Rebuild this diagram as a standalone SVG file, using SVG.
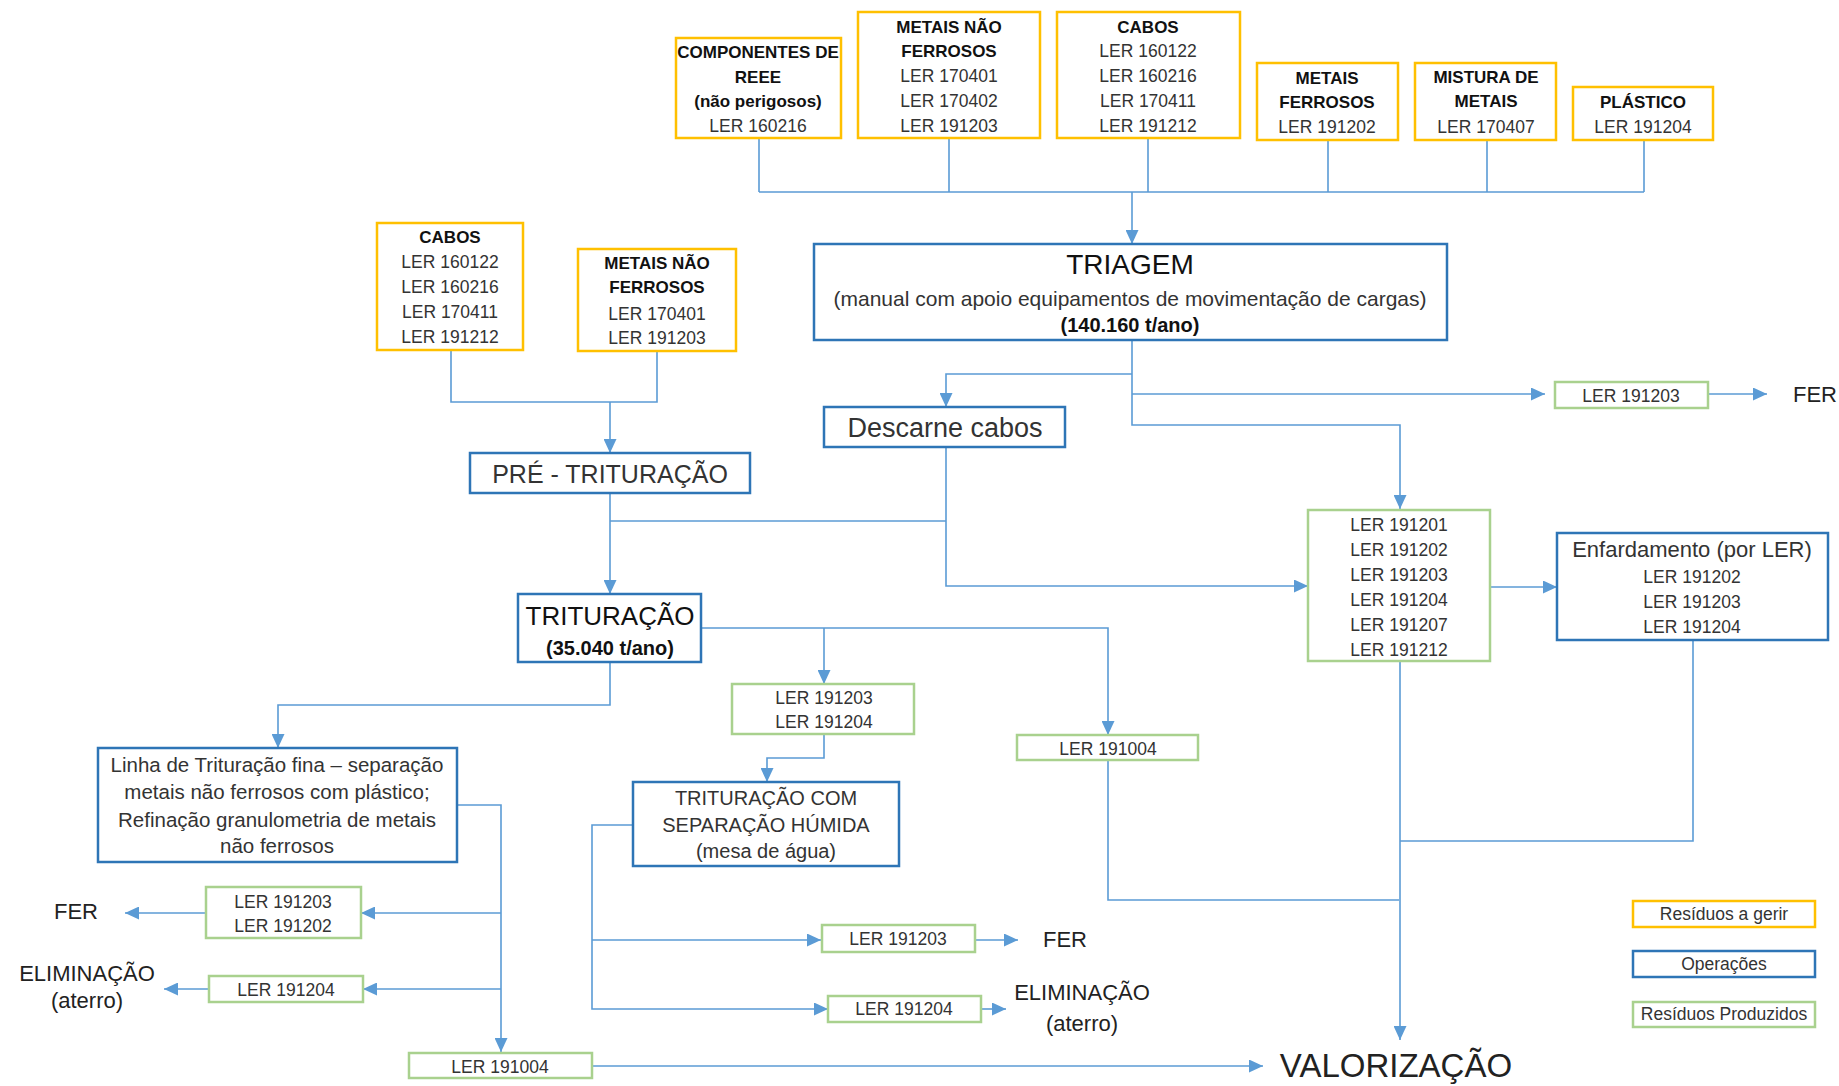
<svg xmlns="http://www.w3.org/2000/svg" width="1839" height="1086" viewBox="0 0 1839 1086">
<style>
.y{fill:#fff;stroke:#FFC000;stroke-width:2.5}
.b{fill:#fff;stroke:#2E75B6;stroke-width:2.5}
.g{fill:#fff;stroke:#A9D18E;stroke-width:2.5}
.c{fill:none;stroke:#5B9BD5;stroke-width:1.6}
.a{marker-end:url(#arr)}
text{font-family:"Liberation Sans",Arial,sans-serif;fill:#333;text-anchor:middle}
.h{font-weight:bold;fill:#111;font-size:17px}
.l{font-size:17.5px}
.m{font-size:21px}
.big{font-size:22px;fill:#222}
</style>
<defs>
<marker id="arr" markerUnits="userSpaceOnUse" markerWidth="14" markerHeight="13" refX="14" refY="6.5" orient="auto">
<path d="M0,0 L14,6.5 L0,13 z" fill="#5B9BD5"/>
</marker>
</defs>
<rect width="1839" height="1086" fill="#fff"/>

<g id="connectors">
<path class="c" d="M759,138V192M949,138V192M1148,138V192M1328,140V192M1487,140V192M1644,140V192M759,192H1644"/>
<path class="c a" d="M1132,192V244"/>
<path class="c a" d="M1132,340V425H1400V509"/>
<path class="c a" d="M1132,374H946V407"/>
<path class="c a" d="M1132,394H1545"/>
<path class="c a" d="M1708,394H1767"/>
<path class="c" d="M451,350V402H657V351"/>
<path class="c a" d="M610,402V453"/>
<path class="c a" d="M610,493V594"/>
<path class="c a" d="M946,447V586H1308"/>
<path class="c" d="M946,521H610"/>
<path class="c a" d="M1490,587H1557"/>
<path class="c a" d="M701,628H1108V735"/>
<path class="c a" d="M824,628V684"/>
<path class="c a" d="M824,734V758H767V782"/>
<path class="c a" d="M610,662V705H278V748"/>
<path class="c a" d="M457,805H501V1052"/>
<path class="c a" d="M501,913H361"/>
<path class="c a" d="M501,989H363"/>
<path class="c a" d="M206,913H125"/>
<path class="c a" d="M209,989H164"/>
<path class="c a" d="M592,1066H1263"/>
<path class="c a" d="M633,825H592V1009H828"/>
<path class="c a" d="M592,940H821"/>
<path class="c a" d="M975,940H1018"/>
<path class="c a" d="M981,1009H1006"/>
<path class="c" d="M1108,760V900H1399"/>
<path class="c a" d="M1400,661V1040"/>
<path class="c" d="M1693,640V841H1400"/>
</g>

<g id="componentes">
<rect class="y" x="676" y="38" width="165" height="100"/>
<text class="h" x="758" y="58">COMPONENTES DE</text>
<text class="h" x="758" y="83">REEE</text>
<text class="h" x="758" y="107">(não perigosos)</text>
<text class="l" x="758" y="132">LER 160216</text>
</g>
<g id="metais-nao-ferrosos-top">
<rect class="y" x="858" y="12" width="182" height="126"/>
<text class="h" x="949" y="33">METAIS NÃO</text>
<text class="h" x="949" y="57">FERROSOS</text>
<text class="l" x="949" y="82">LER 170401</text>
<text class="l" x="949" y="107">LER 170402</text>
<text class="l" x="949" y="132">LER 191203</text>
</g>
<g id="cabos-top">
<rect class="y" x="1057" y="12" width="183" height="126"/>
<text class="h" x="1148" y="33">CABOS</text>
<text class="l" x="1148" y="57">LER 160122</text>
<text class="l" x="1148" y="82">LER 160216</text>
<text class="l" x="1148" y="107">LER 170411</text>
<text class="l" x="1148" y="132">LER 191212</text>
</g>
<g id="metais-ferrosos">
<rect class="y" x="1257" y="63" width="141" height="77"/>
<text class="h" x="1327" y="84">METAIS</text>
<text class="h" x="1327" y="108">FERROSOS</text>
<text class="l" x="1327" y="133">LER 191202</text>
</g>
<g id="mistura">
<rect class="y" x="1415" y="63" width="141" height="77"/>
<text class="h" x="1486" y="83">MISTURA DE</text>
<text class="h" x="1486" y="107">METAIS</text>
<text class="l" x="1486" y="133">LER 170407</text>
</g>
<g id="plastico">
<rect class="y" x="1573" y="87" width="140" height="53"/>
<text class="h" x="1643" y="108">PLÁSTICO</text>
<text class="l" x="1643" y="133">LER 191204</text>
</g>

<g id="triagem">
<rect class="b" x="814" y="244" width="633" height="96"/>
<text x="1130" y="274" style="font-size:28px;fill:#111">TRIAGEM</text>
<text x="1130" y="306" style="font-size:21px">(manual com apoio equipamentos de movimentação de cargas)</text>
<text x="1130" y="332" style="font-size:20px;font-weight:bold;fill:#111">(140.160 t/ano)</text>
</g>

<g id="cabos-left">
<rect class="y" x="377" y="223" width="146" height="127"/>
<text class="h" x="450" y="243">CABOS</text>
<text class="l" x="450" y="268">LER 160122</text>
<text class="l" x="450" y="293">LER 160216</text>
<text class="l" x="450" y="318">LER 170411</text>
<text class="l" x="450" y="343">LER 191212</text>
</g>
<g id="metais-nao-ferrosos-left">
<rect class="y" x="578" y="249" width="158" height="102"/>
<text class="h" x="657" y="269">METAIS NÃO</text>
<text class="h" x="657" y="293">FERROSOS</text>
<text class="l" x="657" y="320">LER 170401</text>
<text class="l" x="657" y="344">LER 191203</text>
</g>

<g id="descarne">
<rect class="b" x="824" y="407" width="241" height="40"/>
<text x="945" y="437" style="font-size:27px">Descarne cabos</text>
</g>
<g id="pre-trituracao">
<rect class="b" x="470" y="453" width="280" height="40"/>
<text x="610" y="483" style="font-size:25px">PRÉ - TRITURAÇÃO</text>
</g>
<g id="ler-191203-top">
<rect class="g" x="1555" y="382" width="153" height="26"/>
<text class="l" x="1631" y="402">LER 191203</text>
</g>
<text class="big" x="1815" y="402" style="font-size:22px">FER</text>

<g id="ler-multi">
<rect class="g" x="1308" y="510" width="182" height="151"/>
<text class="l" x="1399" y="531">LER 191201</text>
<text class="l" x="1399" y="556">LER 191202</text>
<text class="l" x="1399" y="581">LER 191203</text>
<text class="l" x="1399" y="606">LER 191204</text>
<text class="l" x="1399" y="631">LER 191207</text>
<text class="l" x="1399" y="656">LER 191212</text>
</g>
<g id="enfardamento">
<rect class="b" x="1557" y="533" width="271" height="107"/>
<text x="1692" y="557" style="font-size:22px">Enfardamento (por LER)</text>
<text class="l" x="1692" y="583">LER 191202</text>
<text class="l" x="1692" y="608">LER 191203</text>
<text class="l" x="1692" y="633">LER 191204</text>
</g>

<g id="trituracao">
<rect class="b" x="518" y="594" width="183" height="68"/>
<text x="610" y="625" style="font-size:26px;fill:#111">TRITURAÇÃO</text>
<text x="610" y="655" style="font-size:20px;font-weight:bold;fill:#111">(35.040 t/ano)</text>
</g>
<g id="ler-191203-191204">
<rect class="g" x="732" y="684" width="182" height="50"/>
<text class="l" x="824" y="704">LER 191203</text>
<text class="l" x="824" y="728">LER 191204</text>
</g>
<g id="ler-191004-mid">
<rect class="g" x="1017" y="735" width="181" height="25"/>
<text class="l" x="1108" y="755">LER 191004</text>
</g>
<g id="linha-fina">
<rect class="b" x="98" y="748" width="359" height="114"/>
<text x="277" y="772" style="font-size:20.5px">Linha de Trituração fina – separação</text>
<text x="277" y="799" style="font-size:20.5px">metais não ferrosos com plástico;</text>
<text x="277" y="827" style="font-size:20.5px">Refinação granulometria de metais</text>
<text x="277" y="853" style="font-size:20.5px">não ferrosos</text>
</g>
<g id="separacao-humida">
<rect class="b" x="633" y="782" width="266" height="84"/>
<text x="766" y="805" style="font-size:20px">TRITURAÇÃO COM</text>
<text x="766" y="832" style="font-size:20px">SEPARAÇÃO HÚMIDA</text>
<text x="766" y="858" style="font-size:20px">(mesa de água)</text>
</g>

<g id="ler-191203-191202-left">
<rect class="g" x="206" y="887" width="155" height="51"/>
<text class="l" x="283" y="908">LER 191203</text>
<text class="l" x="283" y="932">LER 191202</text>
</g>
<text class="big" x="76" y="919">FER</text>
<g id="ler-191204-left">
<rect class="g" x="209" y="976" width="154" height="26"/>
<text class="l" x="286" y="996">LER 191204</text>
</g>
<text class="big" x="87" y="981">ELIMINAÇÃO</text>
<text class="big" x="87" y="1008">(aterro)</text>

<g id="ler-191004-left">
<rect class="g" x="409" y="1053" width="183" height="25"/>
<text class="l" x="500" y="1073">LER 191004</text>
</g>

<g id="ler-191203-bottom">
<rect class="g" x="822" y="925" width="153" height="27"/>
<text class="l" x="898" y="945">LER 191203</text>
</g>
<text class="big" x="1065" y="947">FER</text>
<g id="ler-191204-bottom">
<rect class="g" x="828" y="996" width="153" height="26"/>
<text class="l" x="904" y="1015">LER 191204</text>
</g>
<text class="big" x="1082" y="1000">ELIMINAÇÃO</text>
<text class="big" x="1082" y="1031">(aterro)</text>

<text x="1396" y="1077" style="font-size:33px;fill:#222">VALORIZAÇÃO</text>

<g id="legend">
<rect class="y" x="1633" y="901" width="182" height="26"/>
<text x="1724" y="920" style="font-size:17.5px">Resíduos a gerir</text>
<rect class="b" x="1633" y="951" width="182" height="26"/>
<text x="1724" y="970" style="font-size:17.5px">Operações</text>
<rect class="g" x="1633" y="1002" width="182" height="25"/>
<text x="1724" y="1020" style="font-size:17.5px">Resíduos Produzidos</text>
</g>
</svg>
